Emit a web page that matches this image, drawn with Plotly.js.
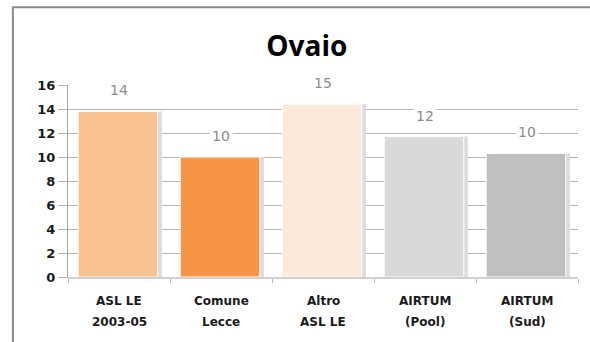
<!DOCTYPE html>
<html><head><meta charset="utf-8">
<script src="https://cdn.plot.ly/plotly-3.0.1.min.js"></script>
<style>body{margin:0;background:#fff}#c{width:590px;height:342px}</style>
</head><body><div id="c"></div>
<script>
const categories = ["ASL LE|2003-05", "Comune|Lecce", "Altro|ASL LE", "AIRTUM|(Pool)", "AIRTUM|(Sud)"];
const values = [13.8, 10.0, 14.4, 11.7, 10.3];
const labels = ["14", "10", "15", "12", "10"];
const colors = ["#f8c190", "#f79646", "#fde9d9", "#d9d9d9", "#bfbfbf"];
const yTicks = [0, 2, 4, 6, 8, 10, 12, 14, 16];

const shadow = {
  type: "bar", x: categories, y: values, width: 0.78, offset: -0.36,
  marker: {color: "#dcdcdc"}, hoverinfo: "skip", showlegend: false
};
const main = {
  type: "bar", x: categories, y: values, width: 0.78, offset: -0.4,
  marker: {color: colors, line: {color: "#ffffff", width: 1}}, showlegend: false
};
const annotations = categories.map((c, i) => ({
  x: c, y: values[i], xref: "x", yref: "y", text: labels[i], showarrow: false,
  yshift: 21, bgcolor: "#ffffff", borderpad: 2,
  font: {family: "DejaVu Sans", size: 14, color: "#8c8c8c"}
}));
const catFont = {family: "DejaVu Sans", size: 12, color: "#1a1a1a", weight: "bold"};
categories.forEach(c => {
  const parts = c.split("|");
  parts.forEach((p, j) => annotations.push({
    x: c, xref: "x", y: j === 0 ? -0.125 : -0.234, yref: "paper", yanchor: "middle",
    text: p, showarrow: false, font: catFont
  }));
});
const layout = {
  width: 590, height: 342,
  margin: {l: 68, r: 12, t: 85, b: 65},
  paper_bgcolor: "#ffffff", plot_bgcolor: "#ffffff",
  barmode: "overlay",
  title: {text: "<b>Ovaio</b>", x: 0.52, xanchor: "center", y: 0.865, yanchor: "middle",
    font: {family: "Open Sans", size: 28, color: "#000000"}},
  xaxis: {
    type: "category", showgrid: false, showline: true, linecolor: "#d0d0d0", linewidth: 2,
    ticks: "outside", ticklen: 4, tickcolor: "#bbbbbb", tickson: "boundaries",
    showticklabels: false, zeroline: false
  },
  yaxis: {
    range: [0, 16], tickvals: yTicks, showgrid: true, gridcolor: "#b3b3b3", gridwidth: 1,
    showline: true, linecolor: "#a6a6a6", linewidth: 1,
    ticks: "outside", ticklen: 9, tickcolor: "#b3b3b3",
    tickfont: {family: "DejaVu Sans", size: 13, color: "#1a1a1a", weight: "bold"},
    zeroline: false, ticklabelstandoff: 0
  },
  annotations: annotations,
  shapes: [{type: "rect", xref: "paper", yref: "paper", x0: -0.108, x1: 1.04, y0: -0.45, y1: 1.405,
    line: {color: "#8a8a8a", width: 2}, layer: "below"}]
};
Plotly.newPlot("c", [shadow, main], layout, {displayModeBar: false, staticPlot: true});
</script></body></html>
